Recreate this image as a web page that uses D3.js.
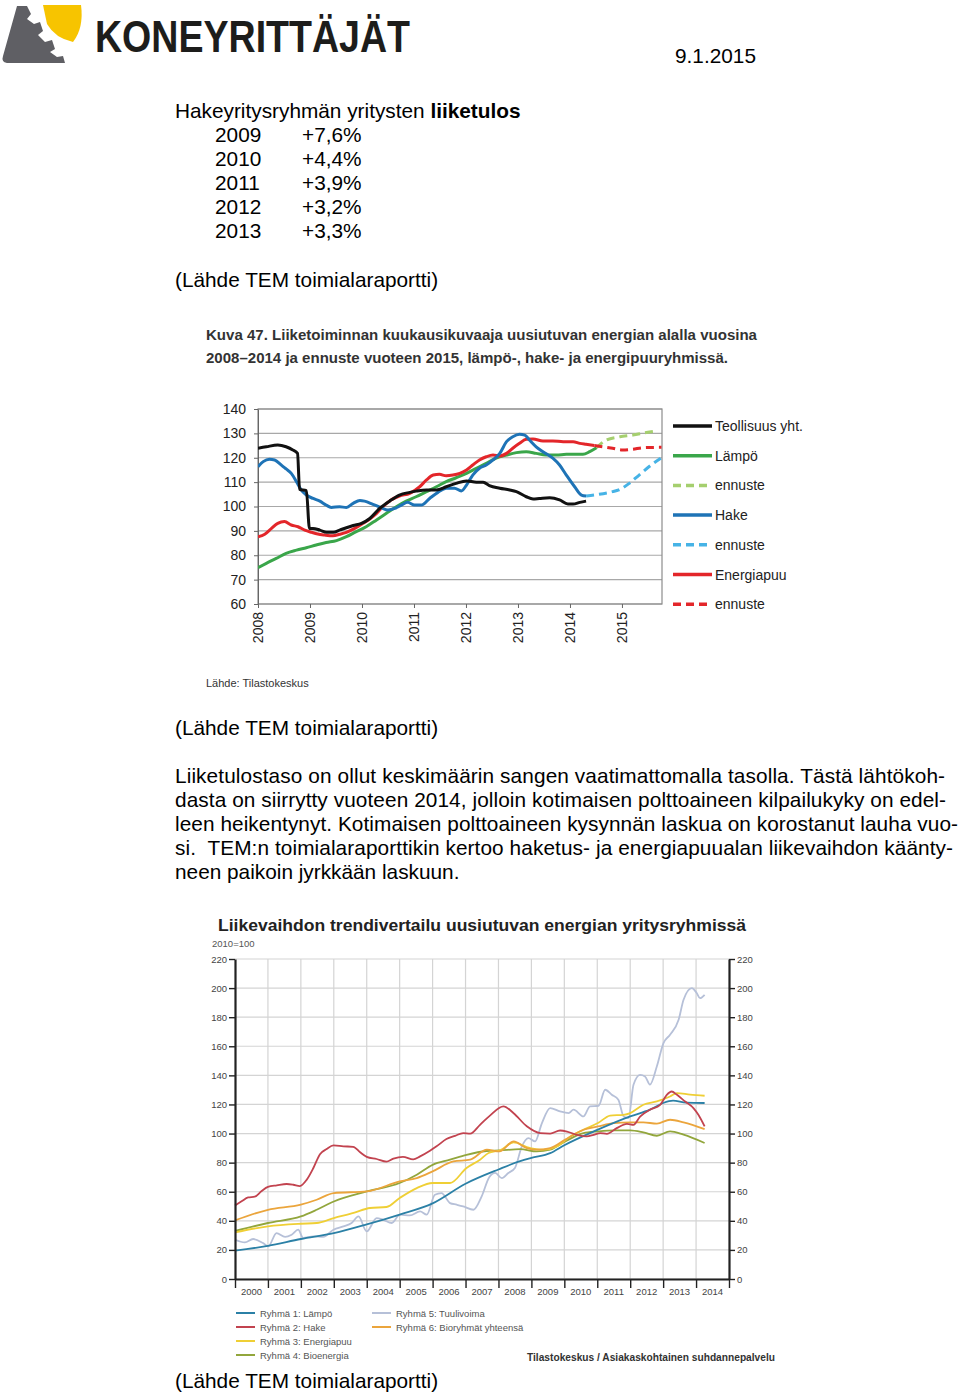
<!DOCTYPE html>
<html><head><meta charset="utf-8">
<script src="https://cdn.jsdelivr.net/npm/d3@7"></script>
<style>body{margin:0;background:#fff} svg{display:block} text{font-family:"Liberation Sans",Arial,sans-serif}</style>
</head><body><svg id="s" width="960" height="1393"></svg>
<script>
// ---------- Chart 1 data (index, monthly) ----------
const years1 = [2008,2009,2010,2011,2012,2013,2014,2015];
const yTicks1 = [60,70,80,90,100,110,120,130,140];
const teollisuus = [[2008.0,123.9],[2008.16,124.5],[2008.38,125.2],[2008.54,124.5],[2008.67,123.2],[2008.76,121.8],[2008.8,107],[2008.93,106.5],[2008.99,91],[2009.06,91],[2009.19,90.3],[2009.32,89.4],[2009.45,89.4],[2009.58,90.4],[2009.7,91.3],[2009.83,92.2],[2009.99,93.1],[2010.15,95.1],[2010.34,99.2],[2010.53,102.2],[2010.72,104.7],[2010.92,105.8],[2011.04,106.3],[2011.24,106.8],[2011.43,106.8],[2011.62,108.1],[2011.81,109.5],[2012.01,110.5],[2012.2,110],[2012.33,110],[2012.45,108.6],[2012.65,107.5],[2012.84,106.8],[2012.97,106.1],[2013.16,104],[2013.29,103.1],[2013.41,103.3],[2013.61,103.6],[2013.8,102.7],[2013.96,101],[2014.06,101],[2014.19,101.7],[2014.31,102.2]];
const lampo = [[2008.0,74.9],[2008.16,76.7],[2008.35,78.7],[2008.54,80.8],[2008.74,82.1],[2008.93,83.1],[2009.12,84.2],[2009.31,85.2],[2009.51,86],[2009.7,87.6],[2009.89,89.7],[2010.08,91.7],[2010.28,94.5],[2010.47,97.2],[2010.66,99.9],[2010.85,102.2],[2011.04,104],[2011.24,106.1],[2011.43,108.1],[2011.62,110.2],[2011.81,111.8],[2012.01,113.6],[2012.2,115.7],[2012.39,117.7],[2012.58,119.8],[2012.78,121.1],[2012.97,122.1],[2013.16,122.5],[2013.35,121.8],[2013.54,121.1],[2013.74,121.1],[2013.93,121.4],[2014.12,121.4],[2014.25,121.4],[2014.38,122.5],[2014.51,124.1]];
const lampoEnnuste = [[2014.51,124.1],[2014.7,127.3],[2014.96,128.6],[2015.21,129.3],[2015.47,130.4],[2015.66,131]];
const hake = [[2008.0,116.3],[2008.1,118.4],[2008.22,119.4],[2008.32,119.1],[2008.45,117],[2008.54,115.4],[2008.64,113.6],[2008.74,110.2],[2008.83,106.8],[2008.93,104.7],[2009.06,103.3],[2009.19,102.2],[2009.31,100.6],[2009.41,99.6],[2009.57,99.9],[2009.7,99.6],[2009.83,101.3],[2009.96,102.5],[2010.05,102.2],[2010.21,100.9],[2010.37,99.5],[2010.5,98.6],[2010.63,99.2],[2010.76,100.6],[2010.88,101.7],[2011.01,100.6],[2011.14,100.6],[2011.3,103.3],[2011.46,105.8],[2011.62,107.5],[2011.78,107.5],[2011.91,106.4],[2012.01,108.8],[2012.13,112.9],[2012.26,115.7],[2012.39,117],[2012.52,119.1],[2012.65,121.8],[2012.78,126.6],[2012.9,128.6],[2013.03,129.6],[2013.13,129.3],[2013.22,127.3],[2013.35,124.5],[2013.48,122.5],[2013.67,119.8],[2013.8,117],[2013.93,112.9],[2014.09,108.1],[2014.22,104.7],[2014.31,104.3]];
const hakeEnnuste = [[2014.31,104.3],[2014.56,105],[2014.82,106.1],[2014.94,106.8],[2015.14,109.5],[2015.33,112.9],[2015.56,117],[2015.76,120]];
const energiapuu = [[2008.0,87.6],[2008.13,88.6],[2008.26,91],[2008.38,93.1],[2008.51,93.8],[2008.64,92.4],[2008.77,91.7],[2008.9,90.3],[2009.03,89.4],[2009.15,88.7],[2009.28,88.3],[2009.44,88],[2009.57,88.6],[2009.7,89.4],[2009.86,91],[2010.02,93.1],[2010.15,94.9],[2010.28,97.2],[2010.4,99.9],[2010.56,102.7],[2010.72,104.3],[2010.92,105.4],[2011.11,108.1],[2011.24,110.9],[2011.37,112.9],[2011.49,113.2],[2011.62,112.6],[2011.75,112.9],[2011.88,113.6],[2012.01,115],[2012.13,117],[2012.26,119.1],[2012.39,120.4],[2012.52,121.1],[2012.65,120.7],[2012.78,121.8],[2012.9,123.9],[2013.03,125.9],[2013.16,127.6],[2013.29,127.7],[2013.48,126.9],[2013.67,126.9],[2013.87,126.6],[2014.06,126.6],[2014.19,125.9],[2014.31,125.5],[2014.47,125]];
const energiaEnnuste = [[2014.47,125],[2014.63,124.5],[2014.82,123.9],[2015.01,123.2],[2015.21,123.5],[2015.4,124.1],[2015.76,124.3]];
const legend1 = ["Teollisuus yht.","Lämpö","ennuste","Hake","ennuste","Energiapuu","ennuste"];

// ---------- Chart 2 data (2010=100) ----------
const years2 = [2000,2001,2002,2003,2004,2005,2006,2007,2008,2009,2010,2011,2012,2013,2014];
const yTicks2 = [0,20,40,60,80,100,120,140,160,180,200,220];
const r1Lampo = [[2000,19.5],[2001,22.8],[2002,27.5],[2003,31.5],[2004,37.5],[2005,44.3],[2006,52],[2007,65.5],[2008,75.3],[2008.66,81],[2009,83.2],[2009.57,86.5],[2010,92],[2011,102.5],[2012,111.8],[2012.6,116.4],[2013,121],[2013.3,122.6],[2013.7,121.2],[2014.26,121]];
const r2Hake = [[2000,50.5],[2000.2,53.4],[2000.4,56.1],[2000.6,56.6],[2000.8,60.3],[2001,63.4],[2001.27,64.4],[2001.57,65.3],[2001.77,64.8],[2001.97,63.9],[2002.18,68.3],[2002.38,76.3],[2002.58,85.8],[2002.78,89.3],[2002.99,91.8],[2003.29,91.2],[2003.59,90.9],[2003.8,87.1],[2004,84],[2004.3,82.5],[2004.6,80.7],[2004.81,82.8],[2005.1,84],[2005.41,82.2],[2005.62,84.3],[2005.92,88.2],[2006.12,91.2],[2006.42,96.2],[2006.68,98.4],[2006.93,100.3],[2007.14,99.9],[2007.44,106],[2007.75,112.5],[2008.15,118.7],[2008.46,114],[2008.86,105],[2009.27,100.3],[2009.57,100],[2009.87,102.1],[2010.08,101.4],[2010.38,99.1],[2010.68,98],[2010.89,99.1],[2011.09,100.3],[2011.29,99.8],[2011.59,103.7],[2011.9,106.7],[2012.1,106],[2012.3,111.7],[2012.6,116.3],[2012.91,119.7],[2013.11,126.6],[2013.26,128.9],[2013.42,126.6],[2013.67,122],[2013.92,117.5],[2014.07,112.9],[2014.26,104.9]];
const r3Energiapuu = [[2000,32],[2001,36.2],[2002,38],[2002.48,38.5],[2003,41.9],[2003.6,45.4],[2004.1,48.8],[2004.6,49.5],[2005,55.7],[2005.52,62.5],[2006,66],[2006.53,66],[2007.03,76.3],[2007.44,82],[2007.7,86.6],[2008.05,88.5],[2008.46,93.9],[2008.86,90.7],[2009.37,88.9],[2009.77,91.2],[2010.18,98],[2010.58,102.6],[2011.02,107.2],[2011.39,112.3],[2011.8,112.9],[2012,114.1],[2012.4,119.8],[2012.81,122.1],[2013.21,125.5],[2013.42,127.8],[2013.82,126.7],[2014.26,126]];
const r4Bioenergia = [[2000,33],[2001,38.5],[2002,43],[2002.48,47.6],[2003,53.3],[2004,60.2],[2005,66],[2005.52,71.7],[2006,78.5],[2006.53,82],[2007.03,85.4],[2007.64,88],[2008.03,88.4],[2008.66,89.3],[2009.16,87.7],[2009.57,88.9],[2010.03,94.6],[2010.58,100.3],[2011.02,101.5],[2011.5,102.2],[2012,102.2],[2012.4,100.8],[2012.81,98.5],[2013.21,101.5],[2013.62,99.2],[2014.26,93.5]];
const r5Tuulivoima = [[2000,27],[2000.3,25.2],[2000.55,27.5],[2000.85,24.7],[2001.01,22.4],[2001.26,31.6],[2001.52,28.9],[2001.72,30.4],[2001.92,33.9],[2002.07,28.2],[2002.38,29.3],[2002.68,29],[2002.99,33.9],[2003.29,36.2],[2003.54,38.5],[2003.75,43],[2004,32.7],[2004.3,41.9],[2004.5,40.7],[2004.76,38.5],[2005.01,44.2],[2005.31,43.7],[2005.62,46.5],[2005.82,44.2],[2006.07,57.9],[2006.27,59.1],[2006.53,52.2],[2006.73,51.1],[2006.93,49.9],[2007.24,47.6],[2007.49,56.8],[2007.72,70],[2007.9,72.9],[2008.1,69.4],[2008.3,72.9],[2008.5,76.3],[2008.71,91.2],[2008.91,96.9],[2009.11,94.6],[2009.32,107.2],[2009.57,117.5],[2009.87,115.2],[2010.13,114.1],[2010.28,116.4],[2010.58,111.8],[2010.78,118.7],[2011.04,119.1],[2011.24,130.1],[2011.44,126.7],[2011.64,123.3],[2011.8,111.8],[2011.95,110.7],[2012.1,133.6],[2012.3,140.4],[2012.45,139.3],[2012.6,133.6],[2012.81,146.2],[2013.01,162.2],[2013.21,167.9],[2013.47,178.2],[2013.62,192],[2013.87,200],[2014.02,196.6],[2014.12,193.1],[2014.26,195.4]];
const r6Bioryhmat = [[2000,40.3],[2001,47.6],[2002,51.1],[2002.48,54.5],[2003,59.1],[2004,60.2],[2005,67.1],[2005.52,69.4],[2006,74],[2006.63,80.8],[2007.14,82],[2007.65,88.9],[2008.03,87.7],[2008.46,94.6],[2008.86,90],[2009.16,88.9],[2009.57,90],[2010.03,95.8],[2010.58,102.6],[2011.02,104.9],[2011.5,107.2],[2012,107.7],[2012.4,107.7],[2012.81,106.8],[2013.21,109.5],[2013.62,107.7],[2014.26,103.1]];
const legend2 = ["Ryhmä 1: Lämpö","Ryhmä 2: Hake","Ryhmä 3: Energiapuu","Ryhmä 4: Bioenergia","Ryhmä 5: Tuulivoima","Ryhmä 6: Bioryhmät yhteensä"];

// ---------- Text ----------
const tulosYears = ["2009","2010","2011","2012","2013"];
const tulosValues = ["+7,6%","+4,4%","+3,9%","+3,2%","+3,3%"];
const paragraph = [
 "Liiketulostaso on ollut keskimäärin sangen vaatimattomalla tasolla. Tästä lähtökoh-",
 "dasta on siirrytty vuoteen 2014, jolloin kotimaisen polttoaineen kilpailukyky on edel-",
 "leen heikentynyt. Kotimaisen polttoaineen kysynnän laskua on korostanut lauha vuo-",
 "si.  TEM:n toimialaraporttikin kertoo haketus- ja energiapuualan liikevaihdon käänty-",
 "neen paikoin jyrkkään laskuun."];
const paraWidths = [770, 771, 783, 778, null];

const svg = d3.select('#s');
const FS = 20.8;

// ---------- Logo ----------
const logo = svg.append('g');
logo.append('path').attr('d','M17,6 L27,6 L31,14 L27,19 L34,24 L40,22 L43,31 L38,35 L45,42 L52,40 L55,49 L50,52 L57,57 L63,56 L65,63 L7,63 Q1,62 3,56 Z').attr('fill','#5f5f64');
logo.append('path').attr('d','M43,5 L81,5 Q84,28 73,42 Q55,38 47,24 Z').attr('fill','#f7c400');
logo.append('text').attr('x',95).attr('y',52).attr('font-size',44).attr('font-weight','bold').attr('fill','#1d1d1b')
  .attr('textLength',315).attr('lengthAdjust','spacingAndGlyphs').text('KONEYRITTÄJÄT');
svg.append('text').attr('x',675).attr('y',63).attr('font-size',FS).attr('fill','#000').text('9.1.2015');

// ---------- Top text block ----------
const t1 = svg.append('text').attr('x',175).attr('y',118).attr('font-size',FS).attr('fill','#000');
t1.append('tspan').text('Hakeyritysryhmän yritysten ');
t1.append('tspan').attr('font-weight','bold').text('liiketulos');
tulosYears.forEach((yv,i)=>{
  svg.append('text').attr('x',215).attr('y',142+24*i).attr('font-size',FS).text(yv);
  svg.append('text').attr('x',302).attr('y',142+24*i).attr('font-size',FS).text(tulosValues[i]);
});
[287,735,1388].forEach(y=>svg.append('text').attr('x',175).attr('y',y).attr('font-size',FS).text('(Lähde TEM toimialaraportti)'));
paragraph.forEach((l,i)=>{
  const t = svg.append('text').attr('x',175).attr('y',783+24*i).attr('font-size',FS).attr('xml:space','preserve').text(l);
  if(paraWidths[i]) t.attr('textLength',paraWidths[i]).attr('lengthAdjust','spacing');
});

// ---------- Chart 1 ----------
svg.append('text').attr('x',206).attr('y',340).attr('font-size',14.5).attr('font-weight','bold').attr('fill','#333')
  .attr('textLength',551).attr('lengthAdjust','spacingAndGlyphs').text('Kuva 47. Liiketoiminnan kuukausikuvaaja uusiutuvan energian alalla vuosina');
svg.append('text').attr('x',206).attr('y',363).attr('font-size',14.5).attr('font-weight','bold').attr('fill','#333')
  .attr('textLength',522).attr('lengthAdjust','spacingAndGlyphs').text('2008–2014 ja ennuste vuoteen 2015, lämpö-, hake- ja energipuuryhmissä.');
svg.append('text').attr('x',206).attr('y',687).attr('font-size',11).attr('fill','#333').text('Lähde: Tilastokeskus');

const x1 = d3.scaleLinear().domain([2008, 2015.77]).range([258, 662]);
const y1 = d3.scaleLinear().domain([60,140]).range([604, 409]);
const c1 = svg.append('g');
c1.append('g').selectAll('line').data(yTicks1).join('line')
  .attr('x1',258).attr('x2',662).attr('y1',d=>y1(d)).attr('y2',d=>y1(d)).attr('stroke','#a8a8a8').attr('stroke-width',1.2);
c1.append('rect').attr('x',258).attr('y',409).attr('width',404).attr('height',195).attr('fill','none').attr('stroke','#8c8c8c').attr('stroke-width',1.2);
const ax1 = c1.append('g').attr('transform','translate(258,0)').call(d3.axisLeft(y1).tickValues(yTicks1).tickSize(4).tickSizeOuter(0));
ax1.select('.domain').attr('stroke','#666');
ax1.selectAll('.tick line').attr('stroke','#666');
ax1.selectAll('text').attr('font-size',14).attr('fill','#222').attr('font-family','"Liberation Sans",Arial,sans-serif').attr('x',-12);
const bx1 = c1.append('g').attr('transform','translate(0,604)').call(d3.axisBottom(x1).tickValues(years1).tickSize(4).tickSizeOuter(0).tickFormat(d3.format('d')));
bx1.select('.domain').remove();
bx1.selectAll('.tick line').attr('stroke','#666');
bx1.selectAll('text').attr('font-size',14).attr('fill','#222').attr('font-family','"Liberation Sans",Arial,sans-serif')
  .attr('transform','rotate(-90)').attr('text-anchor','end').attr('x',-8).attr('y',0).attr('dy','0.35em');

svg.append('clipPath').attr('id','clip1').append('rect').attr('x',258).attr('y',405).attr('width',404).attr('height',203);
const line1 = d3.line().x(d=>x1(d[0])).y(d=>y1(d[1])).curve(d3.curveMonotoneX);
const series1 = [
 {d:lampo, c:'#3aa64a', dash:null},
 {d:lampoEnnuste, c:'#a5cf6e', dash:'8,5'},
 {d:energiapuu, c:'#e3262a', dash:null},
 {d:energiaEnnuste, c:'#e3262a', dash:'8,5'},
 {d:hake, c:'#1e73b6', dash:null},
 {d:hakeEnnuste, c:'#46b3e6', dash:'8,5'},
 {d:teollisuus, c:'#111', dash:null}
];
const lg1 = c1.append('g').attr('clip-path','url(#clip1)');
series1.forEach(s=>{
  lg1.append('path').datum(s.d).attr('d',line1).attr('fill','none').attr('stroke',s.c).attr('stroke-width',3)
    .attr('stroke-dasharray',s.dash).attr('stroke-linejoin','round');
});
const legCols1 = [['#111',null],['#3aa64a',null],['#a5cf6e','8,5'],['#1e73b6',null],['#46b3e6','8,5'],['#e3262a',null],['#e3262a','8,5']];
legend1.forEach((t,i)=>{
  const y = 426 + i*29.7;
  svg.append('line').attr('x1',673).attr('x2',712).attr('y1',y).attr('y2',y).attr('stroke',legCols1[i][0]).attr('stroke-width',3.5).attr('stroke-dasharray',legCols1[i][1]);
  svg.append('text').attr('x',715).attr('y',y+5).attr('font-size',14).attr('fill','#222').text(t);
});

// ---------- Chart 2 ----------
svg.append('text').attr('x',218).attr('y',931).attr('font-size',17).attr('font-weight','bold').attr('fill','#222')
  .attr('textLength',528).attr('lengthAdjust','spacingAndGlyphs').text('Liikevaihdon trendivertailu uusiutuvan energian yritysryhmissä');
svg.append('text').attr('x',212).attr('y',947).attr('font-size',9.5).attr('fill','#555').text('2010=100');

const x2 = d3.scaleLinear().domain([2000,2015]).range([235,729]);
const y2 = d3.scaleLinear().domain([0,220]).range([1279,959]);
const c2 = svg.append('g');
c2.append('g').selectAll('line').data(yTicks2).join('line')
  .attr('x1',235).attr('x2',729).attr('y1',d=>y2(d)).attr('y2',d=>y2(d)).attr('stroke','#d4d4d4').attr('stroke-width',1.2);
c2.append('g').selectAll('line').data(years2.slice(1)).join('line')
  .attr('x1',d=>x2(d)).attr('x2',d=>x2(d)).attr('y1',959).attr('y2',1279).attr('stroke','#d4d4d4').attr('stroke-width',1.2);

const clr2 = ['#2b80a6','#c2434f','#efcf35','#92a63c','#b6c0d8','#eba53c'];
const series2 = [r5Tuulivoima, r4Bioenergia, r3Energiapuu, r6Bioryhmat, r1Lampo, r2Hake];
const idx2 = [4,3,2,5,0,1];
const line2 = d3.line().x(d=>x2(d[0])).y(d=>y2(d[1])).curve(d3.curveMonotoneX);
series2.forEach((s,i)=>{
  c2.append('path').datum(s).attr('d',line2).attr('fill','none').attr('stroke',clr2[idx2[i]]).attr('stroke-width',1.8);
});

function styleAx(g){
  g.select('.domain').attr('stroke','#222').attr('stroke-width',2.2);
  g.selectAll('.tick line').attr('stroke','#222').attr('stroke-width',1.4);
  g.selectAll('text').attr('font-size',9.5).attr('fill','#444').attr('font-family','"Liberation Sans",Arial,sans-serif');
}
const la2 = c2.append('g').attr('transform','translate(235,0)').call(d3.axisLeft(y2).tickValues(yTicks2).tickSize(6).tickSizeOuter(0));
styleAx(la2); la2.selectAll('text').attr('x',-8);
const ra2 = c2.append('g').attr('transform','translate(729,0)').call(d3.axisRight(y2).tickValues(yTicks2).tickSize(6).tickSizeOuter(0));
styleAx(ra2); ra2.selectAll('text').attr('x',8);
const ba2 = c2.append('g').attr('transform','translate(0,1279)').call(d3.axisBottom(x2).tickValues(years2.concat([2015])).tickSize(9).tickSizeOuter(0).tickFormat(''));
styleAx(ba2);
c2.append('g').selectAll('text').data(years2).join('text')
  .attr('x',d=>x2(d+0.5)).attr('y',1295).attr('text-anchor','middle').attr('font-size',9.5).attr('fill','#444').text(d=>d);

legend2.forEach((t,i)=>{
  const col = i<4 ? 0 : 1;
  const row = i<4 ? i : i-4;
  const lx = col===0 ? 236 : 372;
  const y = 1313 + row*14;
  svg.append('line').attr('x1',lx).attr('x2',lx+19).attr('y1',y).attr('y2',y).attr('stroke',clr2[i]).attr('stroke-width',2);
  svg.append('text').attr('x',lx+24).attr('y',y+3.5).attr('font-size',9.5).attr('fill','#555').text(t);
});
svg.append('text').attr('x',527).attr('y',1361).attr('font-size',10).attr('font-weight','bold').attr('fill','#333')
  .attr('textLength',248).attr('lengthAdjust','spacingAndGlyphs').text('Tilastokeskus / Asiakaskohtainen suhdannepalvelu');
</script></body></html>
